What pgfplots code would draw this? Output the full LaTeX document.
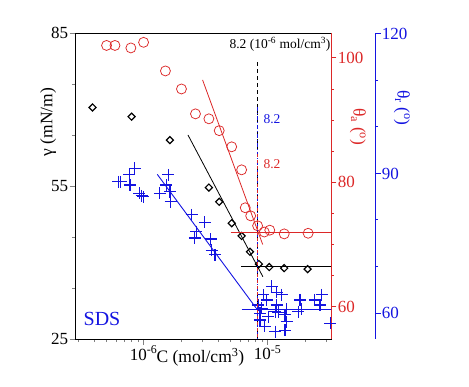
\documentclass[border=0pt]{standalone}
\usepackage{pgfplots}
\pgfplotsset{compat=1.18}
\usepackage{fontspec}
\setmainfont{Liberation Serif}
\definecolor{myred}{RGB}{220,40,40}
\definecolor{myblue}{RGB}{20,20,225}
\begin{document}
\begin{tikzpicture}
\useasboundingbox (0,0) rectangle (469pt,386pt);
% main axis: surface tension
\begin{axis}[
  scale only axis, width=256pt, height=306pt,
  at={(75pt,47pt)}, anchor=south west,
  xmode=log, xmin=2.8e-7, xmax=3.24e-5,
  tick align=outside,
  major tick length=5.5pt, minor tick length=3pt,
  /pgf/number format/assume math mode=true,
  ticklabel style={font=\fontsize{17}{17}\selectfont, inner sep=1.2pt},
  axis line style={line width=0.8pt},
  tick style={line width=0.8pt},
  ymin=25, ymax=85, ytick={25,55,85}, minor ytick={35,45,65,75},
  xtick={1e-6,1e-5},
  xticklabels={\mbox{10\textsuperscript{-6}}, \mbox{10\textsuperscript{-5}}},
  minor xtick={3e-7,4e-7,5e-7,6e-7,7e-7,8e-7,9e-7,2e-6,3e-6,4e-6,5e-6,6e-6,7e-6,8e-6,9e-6,2e-5,3e-5},
  xtick pos=bottom, ytick pos=left,
  xlabel={C (mol/cm\textsuperscript{3})},
  every axis x label/.style={at={(axis description cs:0.49,0)}, anchor=center, yshift=-18pt, font=\fontsize{17.5}{17.5}\selectfont},
  ylabel={γ (mN/m)},
  every axis y label/.style={at={(axis description cs:-0.105,0.709)}, anchor=center, rotate=90, font=\fontsize{17.5}{17.5}\selectfont},
  clip=false,
]
\addplot[black, dash pattern=on 4pt off 3pt, line width=0.8pt] coordinates {(8.2e-6,79.3) (8.2e-6,25)};
\addplot[black, line width=0.8pt] coordinates {(2.28e-6,65.0) (9.16e-6,37.2)};
\addplot[black, line width=0.8pt] coordinates {(6.1e-6,39.2) (3.24e-5,39.2)};
\addplot[black, only marks, mark=square, mark size=2.5pt, mark options={rotate=45, line width=1.2pt, black}] coordinates {
(3.88e-7,70.4) (8.0e-7,68.6) (1.63e-6,64.0) (3.36e-6,54.7) (4.07e-6,51.9)
(5.13e-6,47.7) (6.17e-6,45.2) (7.2e-6,42.1) (8.5e-6,39.7) (1.03e-5,39.1)
(1.36e-5,38.9) (2.1e-5,38.7)};
\end{axis}
% red axis: advancing contact angle
\begin{axis}[
  scale only axis, width=256pt, height=306pt,
  at={(75pt,47pt)}, anchor=south west,
  xmode=log, xmin=2.8e-7, xmax=3.24e-5,
  tick align=outside,
  major tick length=5.5pt, minor tick length=3pt,
  /pgf/number format/assume math mode=true,
  ticklabel style={font=\fontsize{17}{17}\selectfont, inner sep=1.2pt},
  ymin=54.8, ymax=104,
  axis y line*=right, axis x line=none,
  ytick={60,80,100}, minor ytick={65,70,75,85,90,95},
  y axis line style={myred, line width=0.8pt},
  tick style={myred, line width=0.8pt},
  yticklabel style={text=myred},
  ylabel={θ\textsubscript{a} (\textsuperscript{o})},
  every axis y label/.style={at={(axis description cs:1.105,0.693)}, rotate=-90, anchor=center, text=myred, font=\fontsize{17.5}{17.5}\selectfont},
  clip=false,
]
\addplot[myred, line width=0.8pt] coordinates {(2.99e-6,96.45) (9.12e-6,70.0)};
\addplot[myred, line width=0.8pt] coordinates {(5.03e-6,72.0) (3.24e-5,72.0)};
\addplot[myred, only marks, mark=o, mark size=5pt, mark options={myred, line width=0.75pt}] coordinates {
(5.03e-7,102.0) (5.88e-7,102.0) (7.9e-7,101.6) (1.0e-6,102.5) (1.50e-6,97.9)
(2.02e-6,95.0) (2.62e-6,91.0) (3.36e-6,90.2) (4.07e-6,88.3) (5.13e-6,85.7)
(6.17e-6,82.0) (6.6e-6,75.9) (7.3e-6,74.6) (8.3e-6,73.0) (9.4e-6,72.0)
(1.04e-5,72.3) (1.36e-5,71.7) (2.12e-5,71.8)};
\end{axis}
% blue data: receding contact angle
\begin{axis}[
  scale only axis, width=256pt, height=306pt,
  at={(75pt,47pt)}, anchor=south west,
  xmode=log, xmin=2.8e-7, xmax=3.24e-5,
  ymin=54.4, ymax=120.2,
  hide axis, clip=false,
]
\addplot[myblue, dash pattern=on 4pt off 2pt on 1pt off 2pt, line width=0.8pt] coordinates {(8.2e-6,104.3) (8.2e-6,54.4)};
\addplot[myblue, line width=0.9pt] coordinates {(1.29e-6,89.8) (8.05e-6,61.1)};
\addplot[myblue, line width=0.9pt] coordinates {(6.17e-6,60.8) (3.24e-5,60.8)};
\addplot[scatter, only marks, mark=+, mark size=6pt, point meta=y,
  scatter/use mapped color={draw=myblue, fill=myblue},
  mark options={line width=1.2pt}] coordinates {
(6.24e-7,88.2) (6.53e-7,88.2) (7.66e-7,89.7) (8.5e-7,91.1) (7.76e-7,87.5)
(9.23e-7,85.7) (9.64e-7,85.2) (9.93e-7,85.0) (1.58e-6,89.7) (1.53e-6,87.5)
(1.35e-6,85.7) (1.63e-6,86.1) (1.65e-6,83.9) (2.44e-6,81.1) (3.12e-6,79.5)
(2.67e-6,77.5) (2.59e-6,76.1) (3.47e-6,75.9) (3.53e-6,73.5) (3.76e-6,72.5)
(1.08e-5,65.7) (1.18e-5,64.4) (1.30e-5,63.9) (9.2e-6,63.9) (9.8e-6,62.8)
(8.4e-6,61.7) (8.95e-6,61.0) (1.18e-5,61.7) (1.15e-5,60.3) (1.22e-5,60.1)
(1.42e-5,60.8) (1.38e-5,59.6) (1.42e-5,58.1) (1.38e-5,56.3) (1.15e-5,56.0)
(9.5e-6,57.1) (8.67e-6,58.5) (8.67e-6,59.9) (1.01e-5,59.2) (1.82e-5,62.8)
(1.88e-5,60.8) (1.77e-5,60.3) (2.40e-5,62.8) (2.72e-5,63.9) (2.64e-5,61.7)
(3.2e-5,57.8)};
\end{axis}
% red dashed line on top
\begin{axis}[
  scale only axis, width=256pt, height=306pt,
  at={(75pt,47pt)}, anchor=south west,
  xmode=log, xmin=2.8e-7, xmax=3.24e-5,
  ymin=54.8, ymax=104, hide axis]
\addplot[myred, dash pattern=on 3pt off 3pt, line width=0.8pt] coordinates {(8.2e-6,84.5) (8.2e-6,54.8)};
\end{axis}
% offset blue y axis
\begin{axis}[
  scale only axis, width=10pt, height=306pt,
  at={(375pt,47pt)}, anchor=south east,
  xmin=0, xmax=1, ymin=54.4, ymax=120.2,
  axis y line*=right, axis x line=none,
  tick align=outside,
  major tick length=5.5pt, minor tick length=3pt,
  ytick={60,90,120}, minor ytick={70,80,100,110},
  /pgf/number format/assume math mode=true,
  ticklabel style={font=\fontsize{17}{17}\selectfont, inner sep=1.2pt},
  y axis line style={myblue, line width=0.9pt},
  tick style={myblue, line width=0.9pt},
  yticklabel style={text=myblue},
  ylabel={θ\textsubscript{r} (\textsuperscript{o})},
  every axis y label/.style={at={(axis description cs:3.7,0.755)}, rotate=-90, anchor=center, text=myblue, font=\fontsize{17.5}{17.5}\selectfont},
]
\addplot[draw=none] coordinates {(0.5,60)};
\end{axis}
\node[font=\fontsize{13.5}{13.5}\selectfont] at (280pt,342pt) {8.2 (10\textsuperscript{-6} mol/cm\textsuperscript{3})};
\node[font=\fontsize{13.5}{13.5}\selectfont, text=myblue] at (272pt,267pt) {8.2};
\node[font=\fontsize{13.5}{13.5}\selectfont, text=myred] at (272pt,222pt) {8.2};
\node[font=\fontsize{20}{20}\selectfont, text=myblue] at (102pt,67pt) {SDS};
\end{tikzpicture}
\end{document}
